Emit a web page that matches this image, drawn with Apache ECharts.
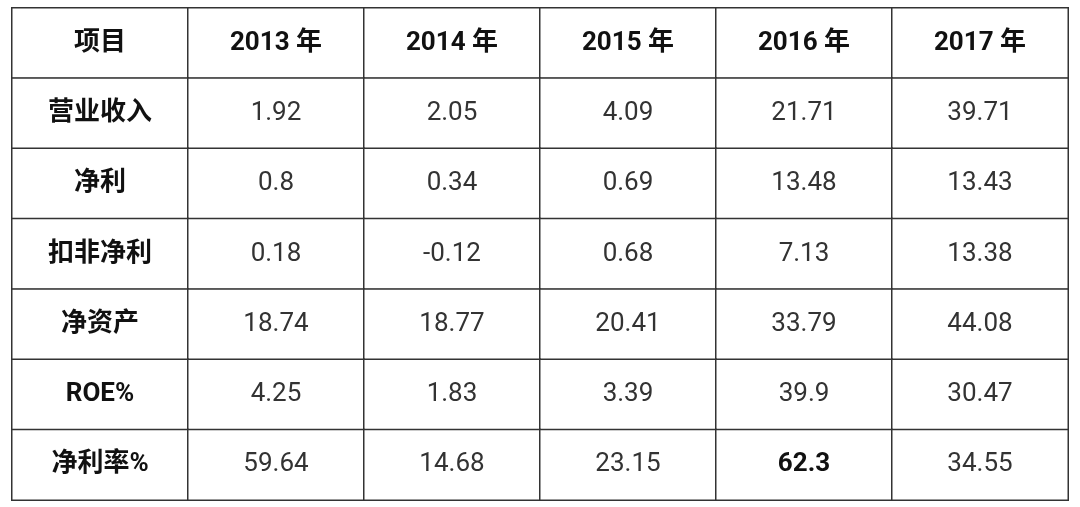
<!DOCTYPE html>
<html>
<head>
<meta charset="utf-8">
<script src="https://cdn.jsdelivr.net/npm/echarts@6/dist/echarts.min.js"></script>
<style>
  html, body { margin: 0; padding: 0; background: #fff; }
  #chart { width: 1080px; height: 507px; }
</style>
</head>
<body>
<div id="chart"></div>
<script>
// 表头与行名
let headers = ['项目', '2013 年', '2014 年', '2015 年', '2016 年', '2017 年']
let rowNames = ['营业收入', '净利', '扣非净利', '净资产', 'ROE%', '净利率%']
// 各行数据（按年份）
let revenue = ['1.92', '2.05', '4.09', '21.71', '39.71']
let netProfit = ['0.8', '0.34', '0.69', '13.48', '13.43']
let netProfitExcl = ['0.18', '-0.12', '0.68', '7.13', '13.38']
let netAssets = ['18.74', '18.77', '20.41', '33.79', '44.08']
let roe = ['4.25', '1.83', '3.39', '39.9', '30.47']
let netMargin = ['59.64', '14.68', '23.15', '62.3', '34.55']
let rows = [revenue, netProfit, netProfitExcl, netAssets, roe, netMargin]
let boldCells = ['5-4']

var chart = echarts.init(document.getElementById('chart'))
let font = 'Roboto, "Noto Sans CJK SC", sans-serif'

let cells = []
headers.forEach((h, c) => {
  cells.push({ value: [c, 0, 0], text: h, label: { fontWeight: 'bold', color: '#111' } })
})
rowNames.forEach((name, r) => {
  cells.push({ value: [0, r + 1, 0], text: name, label: { fontWeight: 'bold', color: '#111' } })
  rows[r].forEach((v, i) => {
    let bold = boldCells.includes((r) + '-' + (i + 1))
    cells.push({ value: [i + 1, r + 1, 0], text: v, label: { fontWeight: bold ? 'bold' : 'normal', color: bold ? '#111' : '#333' } })
  })
})

chart.setOption({
  animation: false,
  grid: { left: 12, right: 12, top: 8, bottom: 7 },
  xAxis: { type: 'category', data: headers, show: false },
  yAxis: { type: 'category', data: ['h'].concat(rowNames), inverse: true, show: false },
  visualMap: { show: false, min: 0, max: 1, inRange: { color: ['#ffffff', '#ffffff'] } },
  series: [{
    type: 'heatmap',
    data: cells,
    itemStyle: { color: '#fff', borderColor: '#333', borderWidth: 1.5 },
    label: {
      show: true,
      fontFamily: font,
      fontSize: 26,
      formatter: p => p.data.text
    }
  }]
})
</script>
</body>
</html>
